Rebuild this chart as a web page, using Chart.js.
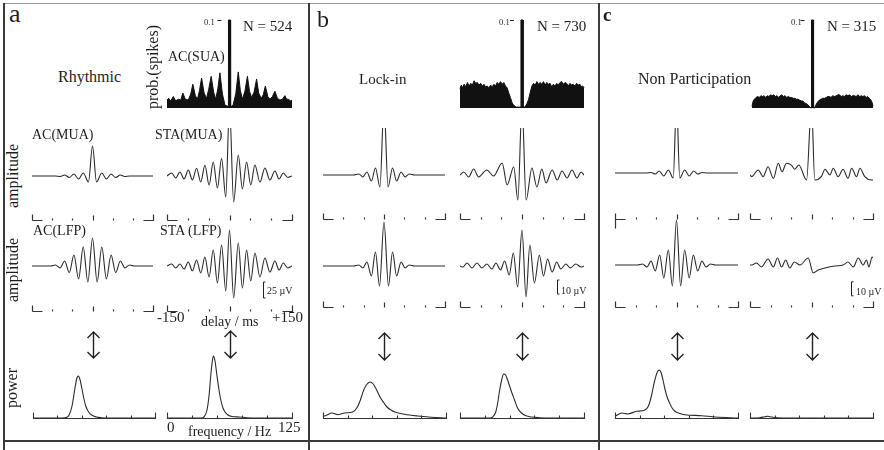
<!DOCTYPE html>
<html><head><meta charset="utf-8">
<script src="https://cdn.jsdelivr.net/npm/chart.js@4.4.1/dist/chart.umd.min.js"></script>
<style>
html,body{margin:0;padding:0;background:#fff;}
#fig{position:relative;width:884px;height:450px;overflow:hidden;background:#fff;font-family:"Liberation Serif","Times New Roman",serif;color:#1e1e1e;}
#fig canvas{position:absolute;}
.t{position:absolute;white-space:nowrap;line-height:1;}
.r{position:absolute;white-space:nowrap;line-height:1;transform:translate(-50%,-50%) rotate(-90deg);}
.ln{position:absolute;background:#3a3a3a;}
</style></head><body><div id="fig"></div>
<script>
// ---------------- DATA ----------------
// delay axis (ms) and frequency axis (Hz)
const delayRange = [-150, 150];
const delayTicks = [-100, -50, 0, 50, 100];
const freqRange = [0, 125];
const freqTicks = [25, 50, 75, 100];
const histTopValue = 0.1;

// Panel a (Rhythmic) — amplitudes in µV
const aAcMuaT = [-150,-92,-80,-69,-57.5,-46,-34.5,-23,-10,0,10,23,34.5,46,57.5,69,80,92,150];
const aAcMuaV = [0,0,-0.8,1.6,-2.3,3.1,-4.7,4.7,-9.4,46.9,-9.4,4.7,-4.7,3.1,-2.3,1.6,-0.8,0,0];
const aStaMuaT = [-150,-139,-129,-119,-109,-99,-89,-79,-69,-59,-49,-39,-29,-19,-9,0,10,21,31,41,51,61,73,85,97,109,119,129,140,150];
const aStaMuaV = [0,4.7,-3.1,6.3,-4.7,9.4,-6.3,12,-9.4,16.7,-14.1,21.9,-18.8,27.7,-32.8,109,-40.6,32.8,-20.3,21.9,-14.1,17.2,-9.4,12.5,-6.3,7.8,-4.7,4.7,-2.3,0];
const aAcLfpT = [-150,-103,-92,-80.5,-69,-57.5,-46,-34.5,-23,-11.5,0,11.5,23,34.5,46,57.5,69,80.5,92,103,150];
const aAcLfpV = [0,0,1.6,-3.1,7.8,-10.2,17.2,-20.3,29.7,-25,43.8,-25,29.7,-20.3,17.2,-10.2,7.8,-3.1,1.6,0,0];
const aStaLfpT = [-150,-139,-129,-119,-109,-99,-89,-79,-69,-59,-49,-39,-29,-19,-9,0,10,21,31,41,51,61,73,85,97,109,119,129,140,150];
const aStaLfpV = [0,3.1,-3.1,3.1,-4.7,6.3,-7.8,9.4,-10.9,14.1,-17.2,25,-26.6,32.8,-39.1,56.3,-50,35.9,-34.4,25,-23.4,20.3,-17.2,12.5,-9.4,7.8,-6.3,4.7,-3.1,0];

// Panel b (Lock-in)
const bAcMuaT = [-150,-75,-62,-52,-42,-31,-21,-10,0,10,21,31,42,52,62,75,150];
const bAcMuaV = [0,0,0.7,-1.4,2.1,-4.3,5,-8.6,50,-8.6,5,-4.3,2.1,-1.4,0.7,0,0];
const bStaMuaT = [-150,-141,-129,-117,-105,-85,-69,-48,-36,-20,-10,0,10,24,36,48,58,73,85,97,109,121,133,143,150];
const bStaMuaV = [0,2.1,-1.4,4.3,-1.4,3.6,-0.7,8.6,-7.1,5.7,-17.9,50,-17.9,5,-8.6,4.3,-5.7,3.6,-3.6,2.9,-2.1,3.6,-2.1,2.1,0];
const bAcLfpT = [-150,-75,-62,-52,-42,-31,-21,-11,0,11,21,31,42,52,62,75,150];
const bAcLfpV = [0,0,0.7,-1.4,2.9,-7.1,10,-14.3,31.4,-14.3,10,-7.1,2.9,-1.4,0.7,0,0];
const bStaLfpT = [-150,-143,-133,-121,-109,-97,-85,-73,-63,-52,-42,-31,-21,-10.5,0,9.7,19,30,42,52,62,73,84,94,106,117,130,143,150];
const bStaLfpV = [0,-0.7,2.1,-1.4,2.1,-1.4,1.4,-2.1,2.1,-2.9,3.6,-6.4,9.3,-15,25.7,-22.1,15,-12.1,7.9,-7.1,5,-4.3,2.9,-2.1,1.4,-1.4,1.4,-0.7,0];

// Panel c (Non Participation)
const cAcMuaT = [-150,-75,-62,-52,-42,-31,-20,-8,0,8,20,31,42,52,62,75,150];
const cAcMuaV = [0,0,0.4,-0.7,1.4,-2.1,2.1,-3.6,50,-3.6,2.1,-2.1,1.4,-0.7,0.4,0,0];
const cStaMuaT = [-150,-146,-130,-118,-106,-93,-81,-72,-61,-49,-41,-31,-12,0,8,24,33,45,53,65,77,89,98,110,118,130,146,150];
const cStaMuaV = [0,-1.2,3.6,-1.2,5.9,-2.4,8.4,2.4,8.4,7.1,4.1,7.1,-3.6,50,-3.6,-1.2,4.1,0,4.8,-1.2,4.1,-2.4,4.8,-1.2,4.8,-1.2,-3.6,-3.6];
const cAcLfpT = [-150,-95,-83,-72,-62,-52,-41,-31,-20,-10,0,10,20,31,41,52,62,72,83,95,150];
const cAcLfpV = [0,0,0.7,-1.4,2.9,-4.3,7.1,-9.3,10.7,-15,32.1,-15,10.7,-9.3,7.1,-4.3,2.9,-1.4,0.7,0,0];
const cStaLfpT = [-150,-146,-134,-122,-106,-93,-83,-73,-63,-53,-42,-28,-8,4,16,33,57,77,89,102,114,126,134,140,148,150];
const cStaLfpV = [0,0,1.4,-1.4,4.3,-1.4,5,-1.4,3.6,-2.1,2.1,0,5,-5.7,-3.6,-2.1,-0.7,0,2.1,-1.4,5,0,3.6,-1.4,5.7,5];

// Power spectra (relative power, a.u.)
const aAcPowF = [0,30,34,37,40,43,45,46.5,48,50,52,54,57,60,65,70,80,125];
const aAcPowV = [0,0,0.5,3,12,30,40,42,39,30,20,12,6,3,1,0.3,0,0];
const aStaPowF = [0,34,37,40,42,44,45.5,46.5,48,50,52,54,56,58,61,65,72,80,90,125];
const aStaPowV = [0,0,1,8,22,45,58,62,57,42,28,17,10,6,3,1.5,1,0.3,0,0];
const bAcPowF = [0,4,9,15,22,30,35,38,41,44,48,51,54,58,62,65,69,73,83,96,110,125];
const bAcPowV = [1.5,3,5,3.3,5,6,11,18,27,33,36,34,29,21,15,11,8,6,3.7,2,0.8,0];
const bStaPowF = [0,30,33,36,38,40,42,44,46,48,50,52,55,58,62,66,72,80,90,125];
const bStaPowV = [0,0,1,6,15,28,38,44,43,38,32,26,18,10,5,2.5,1,0.3,0,0];
const cAcPowF = [0,7,13,22,30,34,37,40,43,45,47,49,51,53,55.5,58,61,66,71,88,102,125];
const cAcPowV = [1.7,5,4,6.7,7.7,12,22,36,46,48,45,37,28,21,15,10,6.7,4.5,3.3,2.3,1,0];
const cStaPowF = [0,10,15,18,22,28,40,125];
const cStaPowV = [0,0.3,1.2,1.7,1,0.3,0,0];

// AC(SUA) histograms (probability of spikes)
const aHistT = [-150,-146,-141,-135,-129,-123,-117,-112,-106,-99,-93,-88,-82,-77,-72,-67,-61,-55,-50,-44,-38,-33,-28,-23,-17,-10.8,-4,-2.6,-2.5,2.5,2.6,4,8.4,15,21,26,31,37,43,48,53,59,65,70,76,81,86,92,97,103,109,115,121,127,133,137,141,147,150];
const aHistP = [0.009,0.011,0.008,0.013,0.008,0.010,0.009,0.017,0.010,0.009,0.016,0.027,0.014,0.010,0.020,0.034,0.017,0.011,0.021,0.036,0.018,0.010,0.022,0.040,0.016,0.003,0.002,0.002,0.1,0.1,0.002,0.002,0.003,0.016,0.041,0.020,0.010,0.019,0.036,0.019,0.012,0.018,0.033,0.017,0.011,0.015,0.025,0.013,0.010,0.013,0.019,0.011,0.009,0.010,0.014,0.010,0.010,0.008,0.009];
const bHistT = [-150,-147,-144,-140,-136,-132,-128,-124,-120,-116,-112,-108,-104,-100,-96,-92,-88,-84,-80,-76,-72,-68,-64,-60,-56,-52,-48,-44,-40,-36,-32,-28,-24,-20,-14,-8,-2.6,-2.5,2.5,2.6,7,12,16,20,24,28,32,36,40,44,48,52,56,60,64,68,72,76,80,84,88,92,96,100,104,108,112,116,120,124,128,132,136,140,144,147,150];
const bHistP = [0.022,0.026,0.023,0.027,0.024,0.029,0.025,0.028,0.026,0.031,0.028,0.029,0.026,0.028,0.025,0.027,0.024,0.025,0.023,0.026,0.024,0.027,0.025,0.029,0.027,0.030,0.027,0.029,0.025,0.023,0.017,0.012,0.006,0.003,0.001,0.001,0.001,0.1,0.1,0.001,0.001,0.005,0.010,0.018,0.025,0.028,0.026,0.030,0.027,0.029,0.027,0.030,0.026,0.029,0.027,0.028,0.024,0.027,0.025,0.028,0.026,0.029,0.030,0.027,0.029,0.028,0.025,0.028,0.026,0.027,0.025,0.028,0.026,0.027,0.024,0.025,0.023];
const cHistT = [-150,-147,-144,-140,-136,-132,-128,-124,-120,-116,-112,-108,-104,-100,-96,-92,-88,-84,-80,-76,-72,-68,-64,-60,-56,-52,-48,-44,-40,-36,-32,-28,-24,-20,-16,-12,-8,-4,-2.6,-2.5,2.5,2.6,5,9,13,17,21,25,30,34,38,42,46,50,55,59,63,67,71,75,79,83,88,92,96,100,104,108,113,117,121,125,129,133,137,141,145,148,150];
const cHistP = [0.002,0.008,0.010,0.012,0.013,0.012,0.014,0.013,0.014,0.012,0.014,0.013,0.015,0.014,0.015,0.013,0.014,0.012,0.014,0.015,0.013,0.014,0.012,0.013,0.012,0.012,0.011,0.011,0.010,0.010,0.009,0.008,0.008,0.006,0.005,0.004,0.002,0,0,0.1,0.1,0,0,0.004,0.007,0.009,0.010,0.011,0.011,0.012,0.013,0.013,0.012,0.014,0.013,0.014,0.015,0.015,0.013,0.014,0.013,0.015,0.014,0.015,0.013,0.014,0.014,0.013,0.015,0.013,0.014,0.013,0.014,0.012,0.013,0.011,0.009,0.006,0.002];

// ---------------- DRAWING ----------------
const fig = document.getElementById('fig');
const INK = '#2b2b2b';
function pts(xs, ys) { return xs.map((x, i) => ({ x: x, y: ys[i] })); }

function makeChart(area, pad, xr, yr, datasets, plugins) {
  const c = document.createElement('canvas');
  const w = area.r - area.l + pad.l + pad.r, h = area.b - area.t + pad.t + pad.b;
  c.width = w; c.height = h;
  c.style.left = (area.l - pad.l) + 'px'; c.style.top = (area.t - pad.t) + 'px';
  c.style.width = w + 'px'; c.style.height = h + 'px';
  fig.appendChild(c);
  return new Chart(c, {
    type: 'line',
    data: { datasets: datasets },
    options: {
      responsive: false, animation: false, devicePixelRatio: 1, events: [],
      layout: { padding: { left: pad.l, right: pad.r, top: pad.t, bottom: pad.b } },
      scales: {
        x: { type: 'linear', display: false, min: xr[0], max: xr[1] },
        y: { type: 'linear', display: false, min: yr[0], max: yr[1] }
      },
      elements: { point: { radius: 0 }, line: { capBezierPoints: false } },
      plugins: { legend: { display: false }, tooltip: { enabled: false } }
    },
    plugins: plugins || []
  });
}

function traceDs(T, V) {
  return { data: pts(T, V), borderColor: INK, borderWidth: 1.1, cubicInterpolationMode: 'monotone', fill: false, pointRadius: 0 };
}

// bracket style delay axis
function bracketPlugin(opt) {
  return { id: 'br', afterDatasetsDraw(ch) {
    const ctx = ch.ctx, x = ch.scales.x, y0 = Math.round(ch.chartArea.bottom) + 0.5;
    const px = v => Math.round(x.getPixelForValue(v)) + 0.5;
    ctx.save(); ctx.strokeStyle = '#333'; ctx.lineWidth = 1.2; ctx.beginPath();
    const xl = px(delayRange[0]), xr = px(delayRange[1]);
    ctx.moveTo(xl, y0 - 6); ctx.lineTo(xl, y0 + (opt && opt.leftTall ? 9 : 0));
    ctx.moveTo(xl, y0); ctx.lineTo(px(-126), y0);
    ctx.moveTo(px(126), y0); ctx.lineTo(xr, y0); ctx.lineTo(xr, y0 - 6);
    delayTicks.forEach(t => { const p = px(t); ctx.moveTo(p, y0); ctx.lineTo(p, y0 - (t === 0 ? 5 : 2)); });
    ctx.stroke(); ctx.restore();
  } };
}
function arrowPlugin(areaTop, yTop, yBot) {
  return { id: 'ar', afterDatasetsDraw(ch) {
    const ctx = ch.ctx, x = Math.round(ch.scales.x.getPixelForValue(0)) + 0.5;
    const off = ch.chartArea.top - areaTop;
    const t = yTop + off, b = yBot + off;
    ctx.save(); ctx.strokeStyle = '#222'; ctx.lineWidth = 1.4; ctx.beginPath();
    ctx.moveTo(x, t); ctx.lineTo(x, b);
    ctx.moveTo(x - 6, t + 6); ctx.lineTo(x, t); ctx.lineTo(x + 6, t + 6);
    ctx.moveTo(x - 6, b - 6); ctx.lineTo(x, b); ctx.lineTo(x + 6, b - 6);
    ctx.stroke(); ctx.restore();
  } };
}
function scaleBarPlugin(t, v0, len) {
  return { id: 'sb', afterDatasetsDraw(ch) {
    const ctx = ch.ctx, x = Math.round(ch.scales.x.getPixelForValue(t)) + 0.5, y = ch.scales.y;
    const y1 = y.getPixelForValue(v0), y2 = y.getPixelForValue(v0 - len);
    ctx.save(); ctx.strokeStyle = '#222'; ctx.lineWidth = 1; ctx.beginPath();
    ctx.moveTo(x + 2, y1); ctx.lineTo(x, y1); ctx.lineTo(x, y2); ctx.lineTo(x + 2, y2);
    ctx.stroke(); ctx.restore();
  } };
}
const powerAxisPlugin = { id: 'pa', afterDatasetsDraw(ch) {
  const ctx = ch.ctx, x = ch.scales.x, y0 = Math.round(ch.scales.y.getPixelForValue(0)) + 0.5;
  const px = v => Math.round(x.getPixelForValue(v)) + 0.5;
  ctx.save(); ctx.strokeStyle = '#333'; ctx.lineWidth = 1.1; ctx.beginPath();
  ctx.moveTo(px(freqRange[0]), y0 - 6); ctx.lineTo(px(freqRange[0]), y0); ctx.lineTo(px(freqRange[1]), y0); ctx.lineTo(px(freqRange[1]), y0 - 6);
  freqTicks.forEach(f => { ctx.moveTo(px(f), y0); ctx.lineTo(px(f), y0 - 3); });
  ctx.stroke(); ctx.restore();
} };
const histTickPlugin = { id: 'ht', afterDatasetsDraw(ch) {
  const ctx = ch.ctx, xc = ch.scales.x.getPixelForValue(0), y = Math.round(ch.scales.y.getPixelForValue(histTopValue)) + 0.5;
  ctx.save(); ctx.strokeStyle = '#222'; ctx.lineWidth = 1; ctx.beginPath();
  ctx.moveTo(xc - 12, y); ctx.lineTo(xc - 8, y); ctx.stroke(); ctx.restore();
} };

// --- trace rows
function traceChart(area, base, f, T, V, plugins, padB) {
  const yr = [-(area.b - base) / f, (base - area.t) / f];
  return makeChart(area, { l: 4, r: 4, t: 0, b: padB || 10 }, delayRange, yr, [traceDs(T, V)], plugins);
}
const fA = 0.64, fBC = 1.4; // px per µV

// MUA row
traceChart({ l: 32, r: 153, t: 128, b: 220 }, 176, fA, aAcMuaT, aAcMuaV, [bracketPlugin()]);
traceChart({ l: 167, r: 292, t: 128, b: 220 }, 176, fA, aStaMuaT, aStaMuaV, [bracketPlugin()]);
traceChart({ l: 323, r: 445, t: 128, b: 219 }, 175, fBC, bAcMuaT, bAcMuaV, [bracketPlugin()]);
traceChart({ l: 460, r: 584, t: 128, b: 219 }, 175, fBC, bStaMuaT, bStaMuaV, [bracketPlugin()]);
traceChart({ l: 615, r: 738, t: 128, b: 219 }, 173, fBC, cAcMuaT, cAcMuaV, [bracketPlugin({ leftTall: true })]);
traceChart({ l: 750, r: 873, t: 128, b: 219 }, 175, fBC, cStaMuaT, cStaMuaV, [bracketPlugin()]);

// LFP row (+ arrows below)
traceChart({ l: 32, r: 153, t: 212, b: 311 }, 266, fA, aAcLfpT, aAcLfpV, [bracketPlugin(), arrowPlugin(212, 332, 358)], 55);
traceChart({ l: 167, r: 292, t: 212, b: 311 }, 266, fA, aStaLfpT, aStaLfpV, [bracketPlugin(), arrowPlugin(212, 331, 358), scaleBarPlugin(80, -25, 25)], 55);
traceChart({ l: 323, r: 445, t: 212, b: 307 }, 266, fBC, bAcLfpT, bAcLfpV, [bracketPlugin(), arrowPlugin(212, 333, 360)], 58);
traceChart({ l: 460, r: 584, t: 212, b: 307 }, 266, fBC, bStaLfpT, bStaLfpV, [bracketPlugin(), arrowPlugin(212, 333, 360), scaleBarPlugin(84, -10, 10)], 58);
traceChart({ l: 615, r: 738, t: 212, b: 307 }, 265, fBC, cAcLfpT, cAcLfpV, [bracketPlugin(), arrowPlugin(212, 333, 360)], 58);
traceChart({ l: 750, r: 873, t: 212, b: 307 }, 265, fBC, cStaLfpT, cStaLfpV, [bracketPlugin(), arrowPlugin(212, 333, 360), scaleBarPlugin(96, -12, 10)], 58);

// power row
function powerChart(area, F, V) {
  return makeChart(area, { l: 3, r: 3, t: 0, b: 3 }, freqRange, [0, 80],
    [{ data: pts(F, V), borderColor: INK, borderWidth: 1.1, cubicInterpolationMode: 'monotone', fill: false, clip: false }],
    [powerAxisPlugin]);
}
powerChart({ l: 33, r: 155, t: 338, b: 418 }, aAcPowF, aAcPowV);
powerChart({ l: 167, r: 292, t: 338, b: 418 }, aStaPowF, aStaPowV);
powerChart({ l: 323, r: 446, t: 338, b: 418 }, bAcPowF, bAcPowV);
powerChart({ l: 460, r: 584, t: 338, b: 418 }, bStaPowF, bStaPowV);
powerChart({ l: 615, r: 738, t: 338, b: 418 }, cAcPowF, cAcPowV);
powerChart({ l: 750, r: 873, t: 338, b: 418 }, cStaPowF, cStaPowV);

// AC(SUA) histograms
function histChart(area, T, P) {
  return makeChart(area, { l: 14, r: 2, t: 1, b: 2 }, delayRange, [0, histTopValue],
    [{ data: pts(T, P), borderColor: '#111', backgroundColor: '#111', borderWidth: 1, fill: 'origin', tension: 0, clip: false }],
    [histTickPlugin]);
}
histChart({ l: 167, r: 292, t: 20, b: 108 }, aHistT, aHistP);
histChart({ l: 460, r: 584, t: 20, b: 108 }, bHistT, bHistP);
histChart({ l: 752, r: 873, t: 20, b: 108 }, cHistT, cHistP);

// ---------------- TEXT & FRAME ----------------
function txt(s, x, base, size, bold) {
  const d = document.createElement('div'); d.className = 't'; d.textContent = s;
  d.style.left = x + 'px'; d.style.top = (base - 0.84 * size) + 'px'; d.style.fontSize = size + 'px';
  if (bold) d.style.fontWeight = 'bold';
  fig.appendChild(d);
}
function rtxt(s, cx, cy, size) {
  const d = document.createElement('div'); d.className = 'r'; d.textContent = s;
  d.style.left = cx + 'px'; d.style.top = cy + 'px'; d.style.fontSize = size + 'px';
  fig.appendChild(d);
}
function line(x, y, w, h, col) {
  const d = document.createElement('div'); d.className = 'ln';
  d.style.left = x + 'px'; d.style.top = y + 'px'; d.style.width = w + 'px'; d.style.height = h + 'px';
  if (col) d.style.background = col;
  fig.appendChild(d);
}
line(3, 3, 881, 1, '#999');
line(3, 3, 2, 447);
line(308, 3, 2, 447);
line(598, 3, 2, 447);
line(3, 440, 881, 2);

txt('a', 9, 23, 26); txt('b', 317, 27, 24); txt('c', 603, 21, 19, true);
txt('Rhythmic', 58, 82, 16); txt('Lock-in', 359, 85, 15); txt('Non Participation', 638, 84, 16);
txt('N = 524', 243, 32, 15); txt('N = 730', 537, 32, 15); txt('N = 315', 827, 32, 15);
txt('0.1', 204, 25, 8.5); txt('0.1', 499, 25, 8.5); txt('0.1', 791, 25, 8.5);
txt('AC(SUA)', 168, 62, 14);
rtxt('prob.(spikes)', 153, 67, 16);
txt('AC(MUA)', 32, 140, 14); txt('STA(MUA)', 155, 140, 14);
txt('AC(LFP)', 33, 236, 14); txt('STA (LFP)', 160, 236, 14);
rtxt('amplitude', 13, 176, 16); rtxt('amplitude', 13, 270, 16); rtxt('power', 12, 388, 16);
txt('25 µV', 267, 294, 10); txt('10 µV', 561, 294, 10); txt('10 µV', 856, 295, 10);
txt('-150', 157, 323, 15); txt('+150', 272, 323, 15); txt('delay / ms', 201, 327, 14);
txt('0', 167, 433, 15); txt('125', 278, 433, 15); txt('frequency / Hz', 188, 437, 14);
</script></body></html>
